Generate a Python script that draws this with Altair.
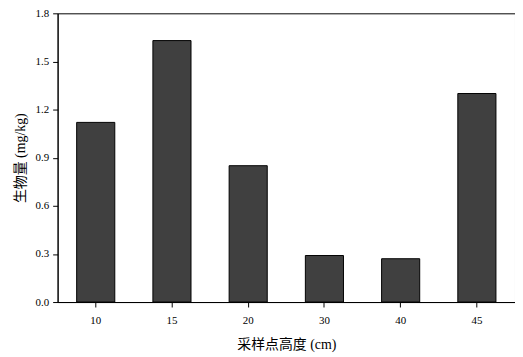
import altair as alt
import pandas as pd

heights = ["10", "15", "20", "30", "40", "45"]
biomass = [1.12, 1.63, 0.85, 0.29, 0.27, 1.30]

df = pd.DataFrame({"h": heights, "v": biomass})

SERIF = "Liberation Serif"
TITLE_FONT = "Liberation Serif, Noto Sans CJK SC"

chart = alt.Chart(df).mark_bar(
    color="#404040", stroke="#000000", strokeWidth=1
).encode(
    x=alt.X("h:N", sort=heights,
            scale=alt.Scale(paddingInner=0.5, paddingOuter=0.25),
            axis=alt.Axis(title="采样点高度 (cm)", labelAngle=0,
                          labelFont=SERIF, labelFontSize=11,
                          labelColor="#000000", labelPadding=8,
                          tickColor="#000000", tickSize=5, domainColor="#000000",
                          titleFont=TITLE_FONT, titleFontSize=14,
                          titleFontWeight="normal", titleColor="#000000",
                          titlePadding=12)),
    y=alt.Y("v:Q",
            scale=alt.Scale(domain=[0, 1.8], nice=False),
            axis=alt.Axis(title="生物量 (mg/kg)", values=[0, 0.3, 0.6, 0.9, 1.2, 1.5, 1.8],
                          format=".1f", grid=False,
                          labelFont=SERIF, labelFontSize=11,
                          labelColor="#000000", labelPadding=4,
                          tickColor="#000000", tickSize=5, domainColor="#000000",
                          titleFont=TITLE_FONT, titleFontSize=14,
                          titleFontWeight="normal", titleColor="#000000",
                          titlePadding=8)),
).properties(
    width=461, height=291,
    autosize=alt.AutoSizeParams(type="none"),
    padding={"left": 50, "top": 4, "right": 0, "bottom": 50},
).configure_view(
    stroke="#000000", strokeWidth=1
)

chart.save("out.html", embed_options={"renderer": "svg", "actions": False})
